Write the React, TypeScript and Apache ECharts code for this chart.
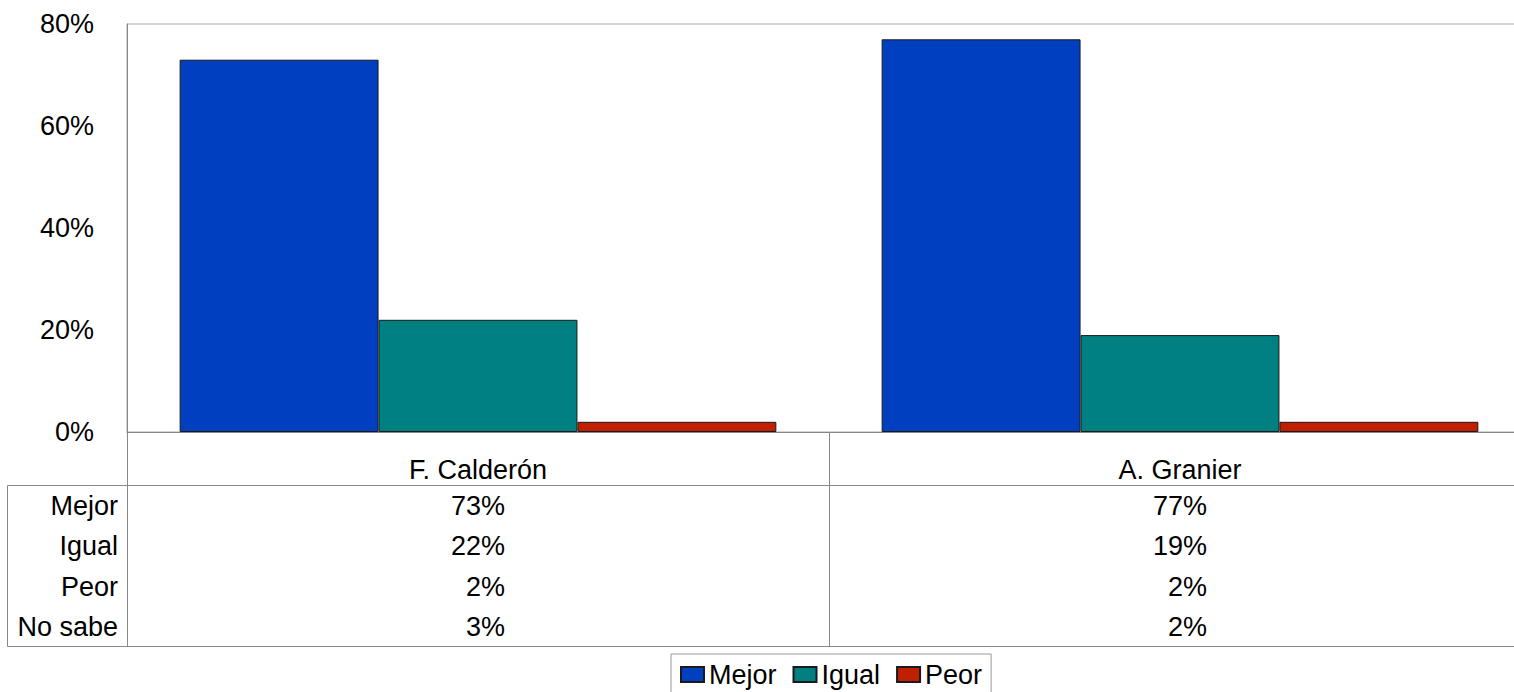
import React, { useEffect, useRef } from "react";
import * as echarts from "echarts";

const categories = ["F. Calderón", "A. Granier"];
const mejor = [73, 77];
const igual = [22, 19];
const peor = [2, 2];
const noSabe = [3, 2];
const rowLabels = ["Mejor", "Igual", "Peor", "No sabe"];
const yTicks = [0, 20, 40, 60, 80];

const FONT = "'Liberation Sans', Arial, Helvetica, sans-serif";
const LINE = "#888888";

export default function App() {
  const ref = useRef<HTMLDivElement>(null);

  useEffect(() => {
    if (!ref.current) return;
    const chart = echarts.init(ref.current, undefined, { renderer: "svg" });

    const rowTop = 486;
    const rowH = 40.3;
    const tableValues = [mejor, igual, peor, noSabe];

    const rowTexts = rowLabels.map((lab, i) => ({
      type: "text",
      x: 118,
      y: rowTop + rowH * i + rowH / 2,
      style: {
        text: lab,
        fill: "#000",
        font: `27px ${FONT}`,
        textAlign: "right",
        textVerticalAlign: "middle",
      },
    }));

    const option = {
      animation: false,
      backgroundColor: "#ffffff",
      textStyle: { fontFamily: FONT },
      grid: {
        left: 127,
        right: 9,
        top: 24,
        bottom: 260,
        show: true,
        borderColor: "#a8a8a8",
        borderWidth: 1,
        backgroundColor: "transparent",
      },
      legend: {
        data: ["Mejor", "Igual", "Peor"],
        left: 671,
        top: 654,
        orient: "horizontal",
        padding: [7, 9, 7, 9],
        borderColor: "#999999",
        borderWidth: 1,
        itemWidth: 23,
        itemHeight: 15,
        itemGap: 16,
        icon: "rect",
        textStyle: { fontSize: 27, color: "#000", fontFamily: FONT },
      },
      xAxis: [
        {
          type: "category",
          data: categories,
          boundaryGap: true,
          axisLine: { show: true, lineStyle: { color: LINE, width: 1 } },
          axisTick: {
            show: true,
            interval: 0,
            length: 214,
            lineStyle: { color: LINE, width: 1 },
          },
          axisLabel: {
            interval: 0,
            margin: 24,
            fontSize: 27,
            lineHeight: 27,
            color: "#000",
            fontFamily: FONT,
          },
          splitLine: { show: false },
        },
        {
          type: "category",
          data: categories,
          position: "bottom",
          gridIndex: 0,
          axisLine: { show: false },
          axisTick: { show: false },
          splitLine: { show: false },
          axisLabel: {
            interval: 0,
            margin: 54,
            color: "#000",
            fontFamily: FONT,
            formatter: (_v: string, idx: number) =>
              tableValues.map((arr) => `{v|${arr[idx]}%}`).join("\n"),
            rich: {
              v: {
                fontSize: 27,
                lineHeight: rowH,
                align: "right",
                color: "#000",
                fontFamily: FONT,
              },
            },
          },
        },
      ],
      yAxis: {
        type: "value",
        min: yTicks[0],
        max: yTicks[yTicks.length - 1],
        interval: 20,
        axisLine: { show: true, lineStyle: { color: LINE, width: 1 } },
        axisTick: { show: false },
        splitLine: { show: false },
        axisLabel: {
          margin: 33,
          fontSize: 27,
          color: "#000",
          fontFamily: FONT,
          formatter: "{value}%",
        },
      },
      series: [
        {
          name: "Mejor",
          type: "bar",
          data: mejor,
          barGap: "0%",
          barCategoryGap: "15%",
          itemStyle: { color: "#0040C0", borderColor: "#1a1a1a", borderWidth: 1 },
        },
        {
          name: "Igual",
          type: "bar",
          data: igual,
          barGap: "0%",
          barCategoryGap: "15%",
          itemStyle: { color: "#008080", borderColor: "#1a1a1a", borderWidth: 1 },
        },
        {
          name: "Peor",
          type: "bar",
          data: peor,
          barGap: "0%",
          barCategoryGap: "15%",
          itemStyle: { color: "#C02000", borderColor: "#1a1a1a", borderWidth: 1 },
        },
      ],
      graphic: [
        {
          type: "line",
          shape: { x1: 7.5, y1: 485.5, x2: 1540, y2: 485.5 },
          style: { stroke: LINE, lineWidth: 1 },
        },
        {
          type: "line",
          shape: { x1: 7.5, y1: 646.5, x2: 1540, y2: 646.5 },
          style: { stroke: LINE, lineWidth: 1 },
        },
        {
          type: "line",
          shape: { x1: 7.5, y1: 485.5, x2: 7.5, y2: 646.5 },
          style: { stroke: LINE, lineWidth: 1 },
        },
        ...rowTexts,
      ],
    };

    chart.setOption(option as any);
    return () => chart.dispose();
  }, []);

  return (
    <div
      style={{
        position: "fixed",
        left: 0,
        top: 0,
        width: 1514,
        height: 692,
        overflow: "hidden",
        background: "#fff",
      }}
    >
      <div ref={ref} style={{ width: 1540, height: 692 }} />
    </div>
  );
}
